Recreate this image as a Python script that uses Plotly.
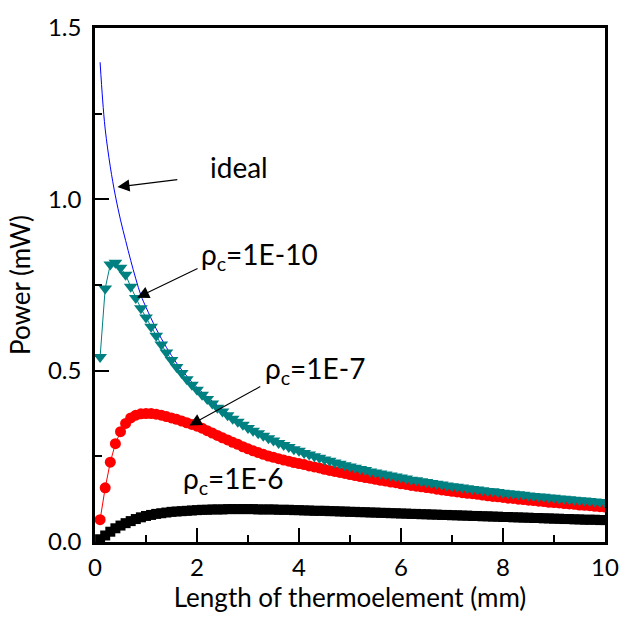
import plotly.graph_objects as go

# ---------------- data ----------------
length_mm = [
    0.1, 0.2, 0.3, 0.4, 0.5, 0.6, 0.7, 0.8, 0.9, 1.0,
    1.1, 1.2, 1.3, 1.4, 1.5, 1.6, 1.7, 1.8, 1.9, 2.0,
    2.1, 2.2, 2.3, 2.4, 2.5, 2.6, 2.7, 2.8, 2.9, 3.0,
    3.1, 3.2, 3.3, 3.4, 3.5, 3.6, 3.7, 3.8, 3.9, 4.0,
    4.1, 4.2, 4.3, 4.4, 4.5, 4.6, 4.7, 4.8, 4.9, 5.0,
    5.1, 5.2, 5.3, 5.4, 5.5, 5.6, 5.7, 5.8, 5.9, 6.0,
    6.1, 6.2, 6.3, 6.4, 6.5, 6.6, 6.7, 6.8, 6.9, 7.0,
    7.1, 7.2, 7.3, 7.4, 7.5, 7.6, 7.7, 7.8, 7.9, 8.0,
    8.1, 8.2, 8.3, 8.4, 8.5, 8.6, 8.7, 8.8, 8.9, 9.0,
    9.1, 9.2, 9.3, 9.4, 9.5, 9.6, 9.7, 9.8, 9.9, 10.0,
]

rho_1e10 = [
    0.540, 0.740, 0.810, 0.815, 0.800, 0.780, 0.745, 0.712, 0.682, 0.655,
    0.628, 0.602, 0.576, 0.553, 0.531, 0.511, 0.493, 0.475, 0.459, 0.444,
    0.430, 0.417, 0.404, 0.392, 0.381, 0.370, 0.360, 0.351, 0.342, 0.333,
    0.325, 0.317, 0.310, 0.303, 0.296, 0.289, 0.283, 0.277, 0.271, 0.266,
    0.260, 0.255, 0.250, 0.246, 0.241, 0.237, 0.232, 0.228, 0.224, 0.220,
    0.217, 0.213, 0.210, 0.206, 0.203, 0.200, 0.197, 0.194, 0.191, 0.188,
    0.185, 0.182, 0.180, 0.177, 0.175, 0.172, 0.170, 0.168, 0.165, 0.163,
    0.161, 0.159, 0.157, 0.155, 0.153, 0.151, 0.149, 0.148, 0.146, 0.144,
    0.142, 0.141, 0.139, 0.138, 0.136, 0.134, 0.133, 0.132, 0.130, 0.129,
    0.127, 0.126, 0.125, 0.123, 0.122, 0.121, 0.120, 0.118, 0.117, 0.116,
]

rho_1e7 = [
    0.065, 0.158, 0.233, 0.287, 0.322, 0.346, 0.362, 0.370, 0.374, 0.375,
    0.375, 0.373, 0.370, 0.366, 0.362, 0.358, 0.353, 0.348, 0.343, 0.338,
    0.332, 0.325, 0.318, 0.311, 0.304, 0.298, 0.291, 0.285, 0.278, 0.272,
    0.266, 0.261, 0.256, 0.251, 0.247, 0.243, 0.239, 0.236, 0.232, 0.229,
    0.226, 0.222, 0.219, 0.216, 0.212, 0.209, 0.206, 0.203, 0.200, 0.197,
    0.194, 0.191, 0.188, 0.186, 0.183, 0.180, 0.178, 0.175, 0.173, 0.170,
    0.168, 0.165, 0.163, 0.161, 0.159, 0.157, 0.154, 0.152, 0.150, 0.148,
    0.146, 0.144, 0.142, 0.141, 0.139, 0.137, 0.135, 0.133, 0.132, 0.130,
    0.128, 0.127, 0.125, 0.124, 0.122, 0.121, 0.119, 0.118, 0.116, 0.115,
    0.114, 0.112, 0.111, 0.110, 0.108, 0.107, 0.106, 0.104, 0.103, 0.102,
]

rho_1e6 = [
    0.008, 0.019, 0.030, 0.040, 0.048, 0.055, 0.061, 0.067, 0.072, 0.076,
    0.079, 0.082, 0.084, 0.086, 0.088, 0.089, 0.090, 0.091, 0.092, 0.093,
    0.094, 0.094, 0.095, 0.095, 0.095, 0.096, 0.096, 0.096, 0.096, 0.096,
    0.096, 0.095, 0.095, 0.095, 0.095, 0.094, 0.094, 0.094, 0.093, 0.093,
    0.092, 0.092, 0.091, 0.091, 0.091, 0.090, 0.090, 0.089, 0.089, 0.088,
    0.088, 0.087, 0.087, 0.086, 0.086, 0.085, 0.085, 0.084, 0.084, 0.083,
    0.083, 0.082, 0.082, 0.081, 0.081, 0.080, 0.080, 0.079, 0.079, 0.078,
    0.078, 0.077, 0.077, 0.076, 0.076, 0.075, 0.075, 0.074, 0.074, 0.073,
    0.073, 0.072, 0.072, 0.071, 0.071, 0.070, 0.070, 0.069, 0.069, 0.068,
    0.068, 0.067, 0.067, 0.066, 0.066, 0.065, 0.065, 0.065, 0.064, 0.064,
]

ideal_x = [0.1, 0.15, 0.2, 0.3, 0.4, 0.5, 0.6, 0.7, 0.8, 0.9, 1.0, 1.2, 1.4,
           1.6, 1.8, 2.0, 2.5, 3.0, 3.5, 4.0, 4.5, 5.0, 6.0, 7.0, 8.0, 9.0, 10.0]
ideal_y = [1.400, 1.290, 1.205, 1.095, 1.010, 0.940, 0.880, 0.822, 0.768, 0.720,
           0.685, 0.622, 0.568, 0.522, 0.484, 0.451, 0.387, 0.339, 0.302, 0.272,
           0.247, 0.226, 0.193, 0.168, 0.148, 0.132, 0.119]

x_ticks = [0, 2, 4, 6, 8, 10]
y_ticks = [0.0, 0.5, 1.0, 1.5]
y_tick_text = ["0.0", "0.5", "1.0", "1.5"]

FONT = "Lato, 'Open Sans', 'DejaVu Sans', sans-serif"

fig = go.Figure()

fig.add_trace(go.Scatter(
    x=ideal_x, y=ideal_y, mode="lines", line=dict(color="#0000FF", width=1, shape="spline"),
    name="ideal", showlegend=False))
fig.add_trace(go.Scatter(
    x=length_mm, y=rho_1e6, mode="lines+markers",
    line=dict(color="black", width=1),
    marker=dict(symbol="square", size=10, color="black"),
    showlegend=False))
fig.add_trace(go.Scatter(
    x=length_mm, y=rho_1e7, mode="lines+markers",
    line=dict(color="#FF0000", width=1),
    marker=dict(symbol="circle", size=11, color="#FF0000"),
    showlegend=False))
fig.add_trace(go.Scatter(
    x=length_mm, y=rho_1e10, mode="lines+markers",
    line=dict(color="#008080", width=1),
    marker=dict(symbol="triangle-down", size=12, color="#008080"),
    showlegend=False))

ann_font = dict(family=FONT, size=28, color="black")
arr = dict(showarrow=True, arrowhead=2, arrowsize=2.2, arrowwidth=1.1,
           arrowcolor="black", axref="x", ayref="y", text="")
lbl = dict(showarrow=False, font=ann_font, yanchor="middle")

annotations = [
    dict(x=0.44, y=1.036, ax=1.643, ay=1.058, **arr),
    dict(x=0.825, y=0.713, ax=2.04, ay=0.80, **arr),
    dict(x=1.853, y=0.340, ax=3.27, ay=0.456, **arr),
    dict(x=2.83, y=1.095, text="ideal", xanchor="center", **lbl),
    dict(x=2.03, y=0.835, text="ρ<sub>c</sub>=1E-10", xanchor="left", **lbl),
    dict(x=3.30, y=0.502, text="ρ<sub>c</sub>=1E-7", xanchor="left", **lbl),
    dict(x=1.68, y=0.182, text="ρ<sub>c</sub>=1E-6", xanchor="left", **lbl),
]

fig.update_layout(
    width=631, height=621,
    margin=dict(l=95, r=14, t=19, b=79),
    paper_bgcolor="white", plot_bgcolor="white",
    font=dict(family=FONT, color="black"),
    annotations=annotations,
    xaxis=dict(
        range=[0, 10], tickmode="array", tickvals=x_ticks,
        ticks="inside", ticklen=14, tickwidth=2, tickcolor="black",
        minor=dict(ticks="inside", ticklen=7, tickwidth=2, dtick=1, tickcolor="black"),
        showline=True, linewidth=2.5, linecolor="black", mirror=True,
        showgrid=False, zeroline=False,
        tickfont=dict(size=24, family=FONT), ticklabelstandoff=2,
        title=dict(text="Length of thermoelement (mm)", font=dict(size=26, family=FONT), standoff=0),
    ),
    yaxis=dict(
        range=[0, 1.5], tickmode="array", tickvals=y_ticks, ticktext=y_tick_text,
        ticks="inside", ticklen=14, tickwidth=2, tickcolor="black",
        minor=dict(ticks="inside", ticklen=7, tickwidth=2, dtick=0.25, tickcolor="black"),
        showline=True, linewidth=2.5, linecolor="black", mirror=True,
        showgrid=False, zeroline=False,
        tickfont=dict(size=24, family=FONT), ticklabelstandoff=6,
        title=dict(text="Power (mW)", font=dict(size=26, family=FONT), standoff=10),
    ),
)

fig.write_html("out.html")
